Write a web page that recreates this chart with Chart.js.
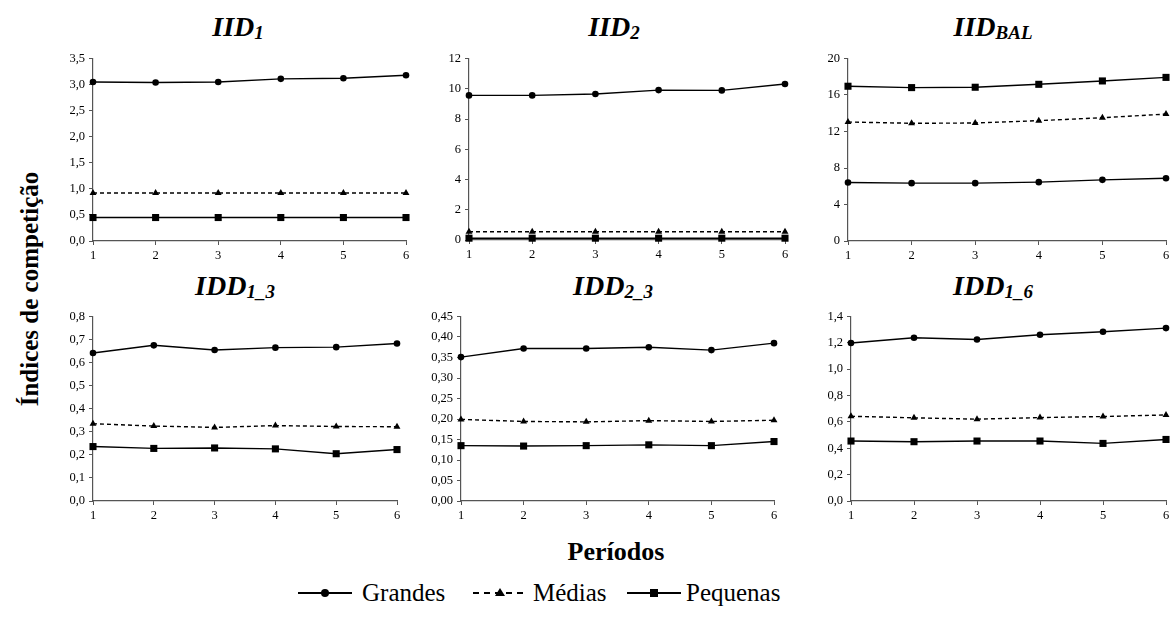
<!DOCTYPE html>
<html lang="pt">
<head>
<meta charset="UTF-8">
<title>Índices de competição</title>
<script src="https://cdn.jsdelivr.net/npm/chart.js@4.4.0/dist/chart.umd.min.js"></script>
<style>
  body { margin: 0; background: #fff; width: 1174px; height: 617px; position: relative; overflow: hidden;
         font-family: "Liberation Serif", serif; color: #000; }
  canvas { position: absolute; }
  .titulo { position: absolute; font-weight: bold; font-style: italic; font-size: 28px; line-height: 1;
            transform: translateX(-50%); white-space: nowrap; font-family: "Liberation Serif", serif; }
  .titulo sub { font-size: 19px; vertical-align: -3px; line-height: 0; }
  .eixo-y { position: absolute; left: 30px; top: 289px; font-weight: bold; font-size: 25px; white-space: nowrap;
            transform: translate(-50%, -50%) rotate(-90deg); font-family: "Liberation Serif", serif; }
  .eixo-x { position: absolute; left: 616px; top: 552px; font-weight: bold; font-size: 26px; white-space: nowrap;
            transform: translate(-50%, -50%); font-family: "Liberation Serif", serif; }
  .legenda svg { position: absolute; top: 583px; }
  .legenda span { position: absolute; top: 578px; font-size: 25px; line-height: 30px; white-space: nowrap;
                  font-family: "Liberation Serif", serif; }
</style>
</head>
<body>
  <!-- titulos dos paineis (com subscrito) -->
  <div class="titulo" style="left:238px; top:13px">IID<sub>1</sub></div>
  <div class="titulo" style="left:614px; top:13px">IID<sub>2</sub></div>
  <div class="titulo" style="left:993px; top:13px">IID<sub>BAL</sub></div>
  <div class="titulo" style="left:235px; top:272px">IDD<sub>1_3</sub></div>
  <div class="titulo" style="left:613px; top:272px">IDD<sub>2_3</sub></div>
  <div class="titulo" style="left:993px; top:272px">IDD<sub>1_6</sub></div>

  <canvas id="iid1"></canvas>
  <canvas id="iid2"></canvas>
  <canvas id="iidbal"></canvas>
  <canvas id="idd13"></canvas>
  <canvas id="idd23"></canvas>
  <canvas id="idd16"></canvas>

  <div class="eixo-y">Índices de competição</div>
  <div class="eixo-x">Períodos</div>

  <!-- legenda comum -->
  <div class="legenda">
    <svg style="left:298px" width="54" height="20"><line x1="0" y1="10" x2="54" y2="10" stroke="#000" stroke-width="2"/><circle cx="27" cy="10" r="4" fill="#000"/></svg>
    <span style="left:362px">Grandes</span>
    <svg style="left:473px" width="54" height="20"><line x1="0" y1="10" x2="54" y2="10" stroke="#000" stroke-width="2" stroke-dasharray="6,5"/><polygon points="27,5 32,13 22,13" fill="#000"/></svg>
    <span style="left:533px">Médias</span>
    <svg style="left:627px" width="54" height="20"><line x1="0" y1="10" x2="54" y2="10" stroke="#000" stroke-width="2"/><rect x="23" y="6" width="8" height="8" fill="#000"/></svg>
    <span style="left:686px">Pequenas</span>
  </div>

<script>
  // periodos (eixo x)
  const periodos = ["1", "2", "3", "4", "5", "6"];

  // IID1
  const iid1Grandes = [3.05, 3.04, 3.05, 3.11, 3.12, 3.18];
  const iid1Medias = [0.92, 0.92, 0.92, 0.92, 0.92, 0.92];
  const iid1Pequenas = [0.45, 0.45, 0.45, 0.45, 0.45, 0.45];

  // IID2
  const iid2Grandes = [9.56, 9.56, 9.65, 9.91, 9.89, 10.31];
  const iid2Medias = [0.55, 0.55, 0.55, 0.55, 0.55, 0.55];
  const iid2Pequenas = [0.12, 0.12, 0.12, 0.12, 0.12, 0.12];

  // IID BAL
  const iidBalGrandes = [6.41, 6.34, 6.34, 6.45, 6.7, 6.88];
  const iidBalMedias = [13.04, 12.9, 12.93, 13.19, 13.51, 13.91];
  const iidBalPequenas = [16.96, 16.81, 16.85, 17.17, 17.54, 17.93];

  // IDD1_3
  const idd13Grandes = [0.642, 0.675, 0.655, 0.665, 0.667, 0.683];
  const idd13Medias = [0.335, 0.325, 0.319, 0.327, 0.323, 0.322];
  const idd13Pequenas = [0.236, 0.228, 0.23, 0.226, 0.205, 0.223];

  // IDD2_3
  const idd23Grandes = [0.351, 0.372, 0.372, 0.375, 0.368, 0.385];
  const idd23Medias = [0.199, 0.194, 0.193, 0.196, 0.194, 0.197];
  const idd23Pequenas = [0.135, 0.134, 0.135, 0.137, 0.135, 0.145];

  // IDD1_6
  const idd16Grandes = [1.199, 1.239, 1.226, 1.262, 1.284, 1.312];
  const idd16Medias = [0.643, 0.631, 0.621, 0.633, 0.641, 0.653];
  const idd16Pequenas = [0.455, 0.45, 0.455, 0.455, 0.437, 0.467];

  Chart.defaults.font.family = '"Liberation Serif", serif';
  Chart.defaults.color = "#000";

  const corEixo = "#555";

  function serie(nome, valores, estilo, raio, tracejado) {
    return {
      label: nome,
      data: valores,
      borderColor: "#000",
      backgroundColor: "#000",
      borderWidth: 1.4,
      borderDash: tracejado,
      pointStyle: estilo,
      pointRadius: raio,
      pointBorderWidth: 0,
      tension: 0,
      clip: false,
    };
  }

  // cria um painel; eixoX = posicao do eixo y, direita = ultimo periodo
  function painel(id, grandes, medias, pequenas, min, max, passo, casas, eixoX, direita, topo, altura) {
    const canvas = document.getElementById(id);
    const esquerda = eixoX - 40;
    canvas.width = direita + 8 - esquerda;
    canvas.height = altura;
    canvas.style.left = esquerda + "px";
    canvas.style.top = topo + "px";

    new Chart(canvas, {
      type: "line",
      data: {
        labels: periodos,
        datasets: [
          serie("Grandes", grandes, "circle", 3.3, []),
          serie("Médias", medias, "triangle", 4, [4, 3]),
          serie("Pequenas", pequenas, "rect", 5, []),
        ],
      },
      options: {
        responsive: false,
        animation: false,
        layout: { padding: { top: 10, right: 8 } },
        plugins: { legend: { display: false }, tooltip: { enabled: false } },
        scales: {
          x: {
            offset: false,
            grid: { drawOnChartArea: false, tickLength: 4, color: corEixo },
            border: { color: corEixo, width: 1.2 },
            ticks: { font: { size: 12.5 }, maxRotation: 0, padding: 3 },
            afterFit(s) { s.height = 24; },
          },
          y: {
            min: min,
            max: max,
            grid: { drawOnChartArea: false, tickLength: 4, color: corEixo },
            border: { color: corEixo, width: 1.2 },
            ticks: {
              stepSize: passo,
              font: { size: 12.5 },
              padding: 4,
              callback: (v) => v.toFixed(casas).replace(".", ","),
            },
            afterFit(s) { s.width = 40; },
          },
        },
      },
    });
  }

  painel("iid1", iid1Grandes, iid1Medias, iid1Pequenas, 0, 3.5, 0.5, 1, 93, 406, 47, 218);
  painel("iid2", iid2Grandes, iid2Medias, iid2Pequenas, 0, 12, 2, 0, 469, 785, 47, 217);
  painel("iidbal", iidBalGrandes, iidBalMedias, iidBalPequenas, 0, 20, 4, 0, 848, 1166, 47, 218);
  painel("idd13", idd13Grandes, idd13Medias, idd13Pequenas, 0, 0.8, 0.1, 1, 93, 397, 305, 220);
  painel("idd23", idd23Grandes, idd23Medias, idd23Pequenas, 0, 0.45, 0.05, 2, 461, 774, 305, 220);
  painel("idd16", idd16Grandes, idd16Medias, idd16Pequenas, 0, 1.4, 0.2, 1, 851, 1166, 305, 220);
</script>
</body>
</html>
